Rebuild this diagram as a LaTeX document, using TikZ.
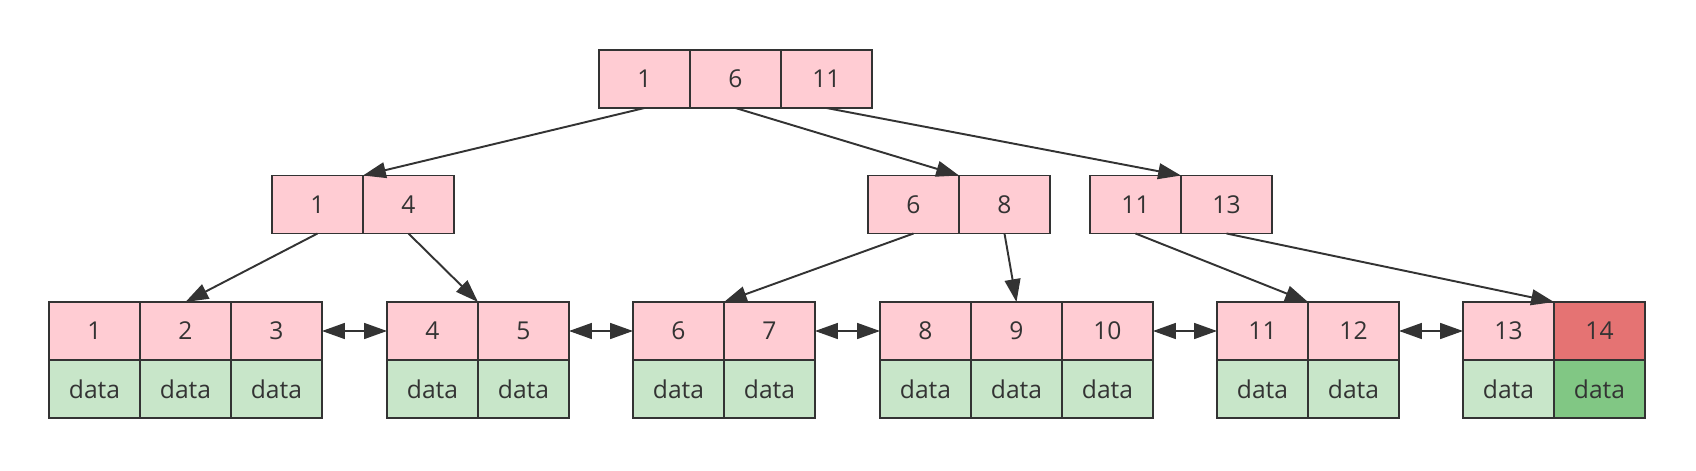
\documentclass[tikz,border=0pt]{standalone}
\usepackage{fontspec}
\setmainfont{Open Sans}
\usetikzlibrary{positioning,arrows.meta}
\definecolor{keyc}{HTML}{FFCCD3}
\definecolor{valc}{HTML}{C8E6C9}
\definecolor{hotkey}{HTML}{E57373}
\definecolor{hotval}{HTML}{81C784}
\definecolor{linec}{HTML}{333333}
\tikzset{
  cell/.style={draw=linec, line width=1.1pt, minimum width=1.82cm, minimum height=1.16cm,
    inner sep=0pt, outer sep=0pt, text=linec, font=\fontsize{14}{16}\selectfont},
  key/.style={cell, fill=keyc},
  val/.style={cell, fill=valc},
  link/.style={draw=linec, line width=1.1pt, -{Triangle[length=13pt,width=9pt]}},
  sib/.style={draw=linec, line width=1.1pt, {Triangle[length=13pt,width=9pt]}-{Triangle[length=13pt,width=9pt]}}
}
\begin{document}
\begin{tikzpicture}[x=0.02cm,y=-0.02cm]
    \useasboundingbox (0,0) rectangle (1696,470);
    % root
    \node[key] (r1) at (644.5,79) {1};
    \node[key, right=0pt of r1] (r6) {6};
    \node[key, right=0pt of r6] (r11) {11};
    % inner nodes
    \node[key] (a1) at (317.5,204.5) {1};
    \node[key, right=0pt of a1] (a4) {4};
    \node[key] (b6) at (913.5,204.5) {6};
    \node[key, right=0pt of b6] (b8) {8};
    \node[key] (c11) at (1135.5,204.5) {11};
    \node[key, right=0pt of c11] (c13) {13};
    % leaves
    \node[key] (l1) at (94.5,331) {1};
    \node[key, right=0pt of l1] (l2) {2};
    \node[key, right=0pt of l2] (l3) {3};
    \node[key] (l4) at (432.5,331) {4};
    \node[key, right=0pt of l4] (l5) {5};
    \node[key] (l6) at (678.5,331) {6};
    \node[key, right=0pt of l6] (l7) {7};
    \node[key] (l8) at (925.5,331) {8};
    \node[key, right=0pt of l8] (l9) {9};
    \node[key, right=0pt of l9] (l10) {10};
    \node[key] (l11) at (1262.5,331) {11};
    \node[key, right=0pt of l11] (l12) {12};
    \node[key] (l13) at (1508.5,331) {13};
    \node[key, fill=hotkey, right=0pt of l13] (l14) {14};
    \foreach \k in {1,...,13} {
        \node[val, below=0pt of l\k] (d\k) {data};
    }
    \node[val, fill=hotval, below=0pt of l14] (d14) {data};
    % tree links
    \draw[link] (r1.south) -- (a1.north east);
    \draw[link] (r6.south) -- (b6.north east);
    \draw[link] (r11.south) -- (c11.north east);
    \draw[link] (a1.south) -- (l2.north);
    \draw[link] (a4.south) -- (l4.north east);
    \draw[link] (b6.south) -- (l6.north east);
    \draw[link] (b8.south) -- (l9.north);
    \draw[link] (c11.south) -- (l11.north east);
    \draw[link] (c13.south) -- (l13.north east);
    % leaf chain
    \draw[sib] (l3.east) -- (l4.west);
    \draw[sib] (l5.east) -- (l6.west);
    \draw[sib] (l7.east) -- (l8.west);
    \draw[sib] (l10.east) -- (l11.west);
    \draw[sib] (l12.east) -- (l13.west);
\end{tikzpicture}
\end{document}
